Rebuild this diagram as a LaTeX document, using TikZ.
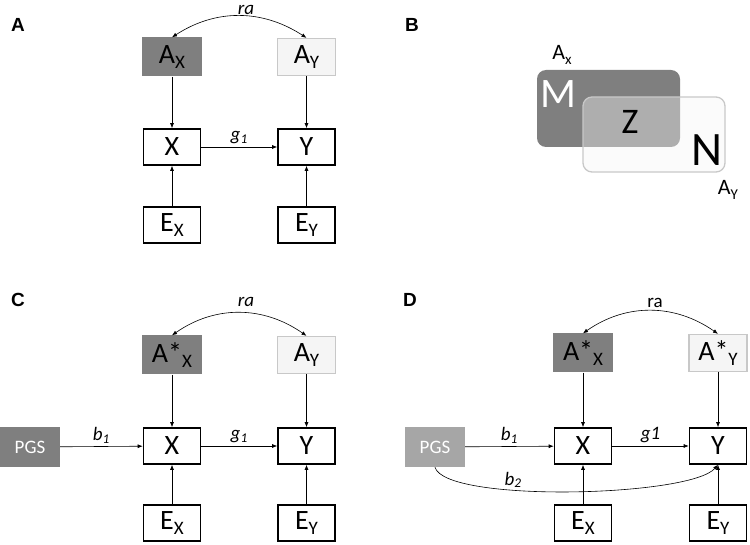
\documentclass[tikz,border=0pt]{standalone}
\usepackage{fontspec}
\setmainfont{Carlito}
\newfontfamily\arialf{Liberation Sans}
\usetikzlibrary{arrows.meta}
\definecolor{dk}{HTML}{7F7F7F}
\definecolor{lt}{HTML}{F5F5F5}
\definecolor{ltb}{HTML}{C8C8C8}
\definecolor{pg}{HTML}{A6A6A6}
\newcommand{\lowsub}[1]{\raisebox{-0.35ex}{\fontsize{19}{19}\selectfont #1}}
\tikzset{
  box/.style={draw=black, line width=1.6pt, minimum width=57pt, minimum height=36pt, inner sep=0pt, font=\fontsize{28}{28}\selectfont},
  dbox/.style={fill=dk, minimum width=60pt, minimum height=39pt, inner sep=0pt, font=\fontsize{28}{28}\selectfont},
  lbox/.style={fill=lt, draw=ltb, line width=1.3pt, minimum width=58pt, minimum height=37pt, inner sep=0pt, font=\fontsize{28}{28}\selectfont},
  pgs/.style={minimum width=60pt, minimum height=40pt, inner sep=0pt, text=white, font=\fontsize{19}{19}\selectfont},
  arr/.style={-{Latex[length=5pt,width=4pt]}, line width=0.6pt},
  darr/.style={{Latex[length=5pt,width=4pt]}-{Latex[length=5pt,width=4pt]}, line width=0.6pt},
  lab/.style={font=\fontsize{19}{19}\selectfont\itshape, inner sep=1pt},
  panel/.style={font=\arialf\bfseries\fontsize{19}{19}\selectfont, inner sep=0pt}
}
\begin{document}
\begin{tikzpicture}[x=1pt,y=-1pt]
\useasboundingbox (0,0) rectangle (750,545);
% Panel A
\node[panel] (pa) at (18,25) {A};
\node[dbox] (aax) at (172,57) {A\lowsub{X}};
\node[lbox] (aay) at (306.5,57) {A\lowsub{Y}};
\node[box] (ax) at (172,147) {X};
\node[box] (ay) at (306.5,147) {Y};
\node[box] (aex) at (172,225) {E\lowsub{X}};
\node[box] (aey) at (306.5,225) {E\lowsub{Y}};
\draw[darr] (aax.north) to[out=33,in=147] (aay.north);
\node[lab] (ara) at (246,10) {ra};
\draw[arr] (aax) -- (ax);
\draw[arr] (aay) -- (ay);
\draw[arr] (ax) -- node[lab,above=2pt] {g\textsubscript{1}} (ay);
\draw[arr] (aex) -- (ax);
\draw[arr] (aey) -- (ay);
% Panel B
\node[panel] (pb) at (412,25) {B};
\fill[dk, rounded corners=9pt] (537,70) rectangle (680,147);
\draw[ltb, fill=lt, fill opacity=0.4, line width=1.3pt, rounded corners=9pt] (583,97) rectangle (725,172);
\node[font=\fontsize{22}{22}\selectfont] (bax) at (562,55) {A\raisebox{-0.4ex}{\fontsize{15}{15}\selectfont x}};
\node[font=\fontsize{22}{22}\selectfont] (bay) at (728,190) {A\raisebox{-0.4ex}{\fontsize{15}{15}\selectfont Y}};
\node[text=white, font=\fontsize{42}{42}\selectfont] (bm) at (558,94) {M};
\node[font=\fontsize{36}{36}\selectfont] (bz) at (630,122) {Z};
\node[font=\fontsize{48}{48}\selectfont] (bn) at (707,150) {N};
% Panel C
\node[panel] (pc) at (18,300) {C};
\node[dbox] (cax) at (172,355) {A*\lowsub{X}};
\node[lbox] (cay) at (306.5,355) {A\lowsub{Y}};
\node[box] (cx) at (172,446) {X};
\node[box] (cy) at (306.5,446) {Y};
\node[box] (cex) at (172,523) {E\lowsub{X}};
\node[box] (cey) at (306.5,523) {E\lowsub{Y}};
\node[pgs, fill=dk] (cp) at (30,447) {PGS};
\draw[darr] (cax.north) to[out=35,in=145] (cay.north);
\node[lab] (cra) at (246,302) {ra};
\draw[arr] (cax) -- (cx);
\draw[arr] (cay) -- (cy);
\draw[arr] (cx) -- node[lab,above=2pt] {g\textsubscript{1}} (cy);
\draw[arr] (cp) -- node[lab,above=2pt] {b\textsubscript{1}} (cx);
\draw[arr] (cex) -- (cx);
\draw[arr] (cey) -- (cy);
% Panel D
\node[panel] (pd) at (410,300) {D};
\node[dbox] (dax) at (583,353) {A*\lowsub{X}};
\node[lbox] (day) at (718,353) {A*\lowsub{Y}};
\node[box] (dx) at (583,446) {X};
\node[box] (dy) at (718,446) {Y};
\node[box] (dex) at (583,523) {E\lowsub{X}};
\node[box] (dey) at (718,523) {E\lowsub{Y}};
\node[pgs, fill=pg] (dp) at (435,447) {PGS};
\draw[darr] (dax.north) to[out=35,in=145] (day.north);
\node[font=\fontsize{19}{19}\selectfont, inner sep=1pt] (dra) at (655,303) {ra};
\draw[arr] (dax) -- (dx);
\draw[arr] (day) -- (dy);
\draw[arr] (dx) -- node[lab,above=2pt] {g1} (dy);
\draw[arr] (dp) -- node[lab,above=2pt] {b\textsubscript{1}} (dx);
\draw[arr] (dex) -- (dx);
\draw[arr] (dey) -- (dy);
\draw[arr] (dp.south) .. controls (445,503) and (690,497) .. (dy.south);
\node[lab] (b2) at (513,480) {b\textsubscript{2}};
\end{tikzpicture}
\end{document}
